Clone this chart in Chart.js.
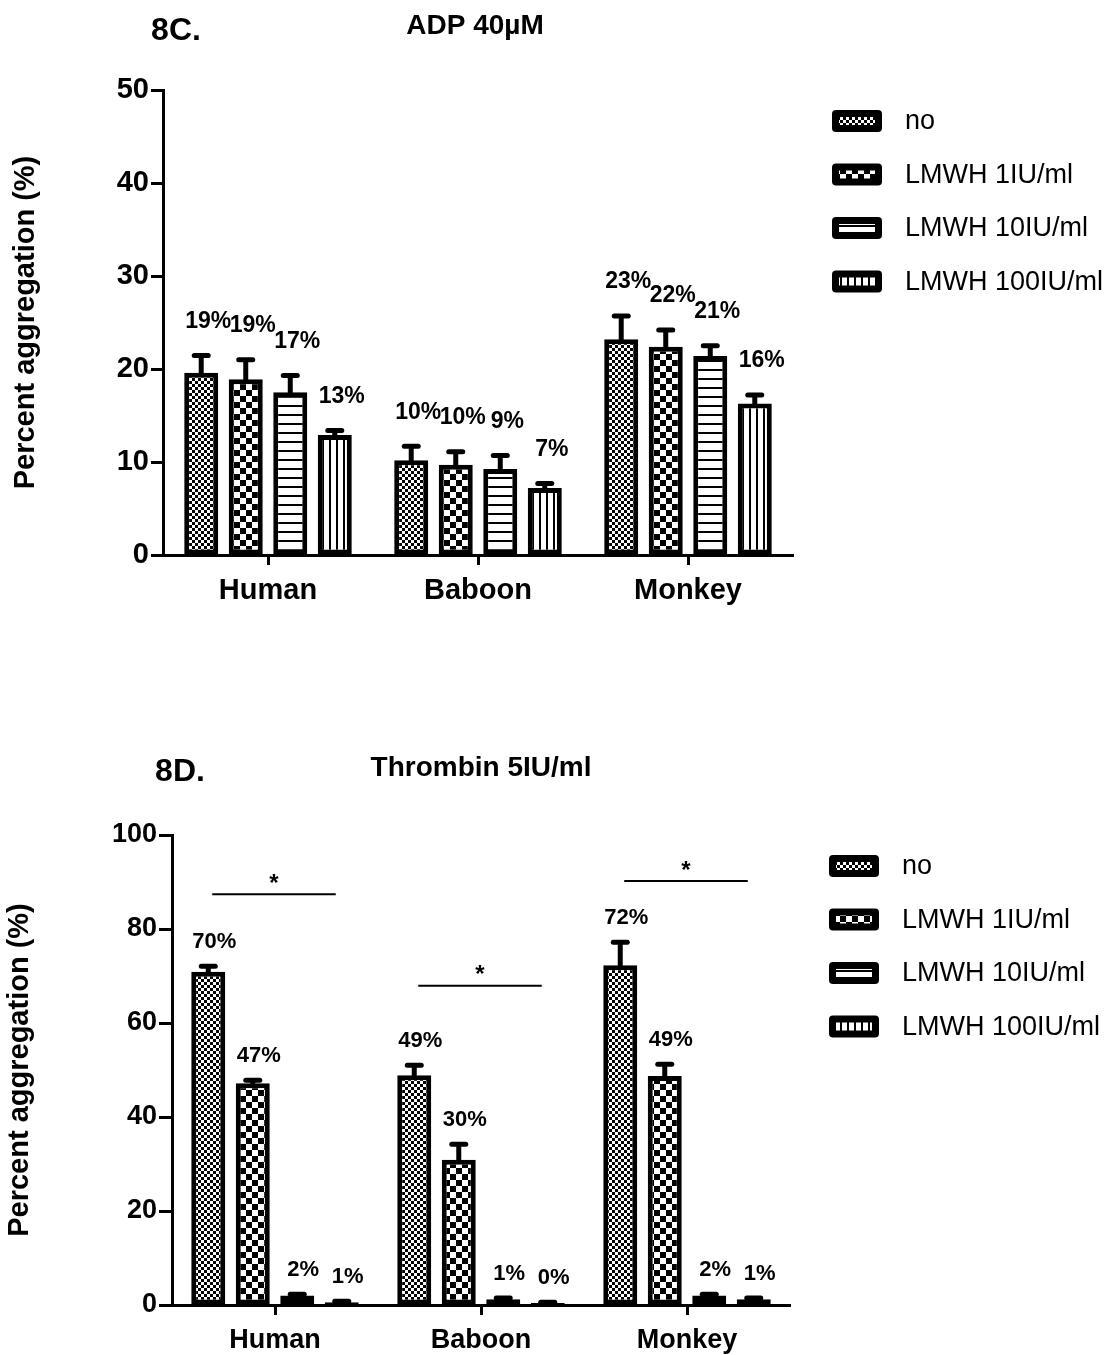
<!DOCTYPE html>
<html>
<head>
<meta charset="utf-8">
<script src="https://cdn.jsdelivr.net/npm/chart.js@4.4.1/dist/chart.umd.min.js"></script>
<style>
  body { margin: 0; background: #fff; }
  canvas { position: absolute; left: 0; }
  #adp { top: 0; }
  #thr { top: 700px; }
</style>
</head>
<body>
<canvas id="adp" width="1113" height="650"></canvas>
<canvas id="thr" width="1113" height="655"></canvas>
<script>
// categories and series
const categories = ['Human', 'Baboon', 'Monkey'];
const seriesNames = ['no', 'LMWH 1IU/ml', 'LMWH 10IU/ml', 'LMWH 100IU/ml'];

// 8C. ADP 40µM  (mean, error, printed label) per category
const adpNo       = [19.6, 10.2, 23.2];
const adpLmwh1    = [18.9, 9.7, 22.4];
const adpLmwh10   = [17.5, 9.25, 21.4];
const adpLmwh100  = [12.9, 7.2, 16.3];
const adpNoErr      = [1.85, 1.5, 2.5];
const adpLmwh1Err   = [2.1, 1.4, 1.8];
const adpLmwh10Err  = [1.8, 1.45, 1.1];
const adpLmwh100Err = [0.5, 0.5, 0.9];
const adpNoLbl      = ['19%', '10%', '23%'];
const adpLmwh1Lbl   = ['19%', '10%', '22%'];
const adpLmwh10Lbl  = ['17%', '9%', '21%'];
const adpLmwh100Lbl = ['13%', '7%', '16%'];
const adpTicks = [0, 10, 20, 30, 40, 50];

// 8D. Thrombin 5IU/ml
const thrNo       = [70.9, 48.9, 72.3];
const thrLmwh1    = [47.2, 30.9, 48.7];
const thrLmwh10   = [2.0, 1.2, 2.0];
const thrLmwh100  = [0.6, 0.4, 1.2];
const thrNoErr      = [1.2, 2.1, 4.9];
const thrLmwh1Err   = [0.6, 3.3, 2.5];
const thrLmwh10Err  = [0.3, 0.3, 0.3];
const thrLmwh100Err = [0.2, 0.2, 0.3];
const thrNoLbl      = ['70%', '49%', '72%'];
const thrLmwh1Lbl   = ['47%', '30%', '49%'];
const thrLmwh10Lbl  = ['2%', '1%', '2%'];
const thrLmwh100Lbl = ['1%', '0%', '1%'];
const thrSigY = [87.4, 67.9, 90.2];   // height of the "*" bracket per category
const thrTicks = [0, 20, 40, 60, 80, 100];

const FONT = '"Liberation Sans", Arial, sans-serif';

function makePatterns(ctx) {
  function pat(w, h, draw) {
    const c = document.createElement('canvas');
    c.width = w; c.height = h;
    const g = c.getContext('2d');
    g.fillStyle = '#fff'; g.fillRect(0, 0, w, h);
    g.fillStyle = '#000';
    draw(g);
    return ctx.createPattern(c, 'repeat');
  }
  return [
    pat(6, 6, g => { g.fillRect(0, 0, 3, 3); g.fillRect(3, 3, 3, 3); }),
    pat(12, 12, g => { g.fillRect(0, 0, 6, 6); g.fillRect(6, 6, 6, 6); }),
    pat(9, 9, g => { g.fillRect(0, 0, 9, 2); }),
    pat(7, 7, g => { g.fillRect(0, 0, 2, 7); })
  ];
}

const extras = {
  id: 'extras',
  afterDatasetsDraw(chart, args, o) {
    const ctx = chart.ctx;
    const ys = chart.scales.y;
    ctx.save();
    ctx.strokeStyle = '#000';
    ctx.fillStyle = '#000';
    chart.data.datasets.forEach((ds, i) => {
      chart.getDatasetMeta(i).data.forEach((bar, j) => {
        const top = ys.getPixelForValue(ds.data[j] + ds.errors[j]);
        ctx.lineWidth = 5;
        ctx.lineCap = 'butt';
        ctx.beginPath(); ctx.moveTo(bar.x, bar.y + 2); ctx.lineTo(bar.x, top); ctx.stroke();
        ctx.lineCap = 'round';
        ctx.beginPath(); ctx.moveTo(bar.x - 7, top); ctx.lineTo(bar.x + 7, top); ctx.stroke();
        ctx.font = 'bold ' + o.labelSize + 'px ' + FONT;
        ctx.textAlign = 'center';
        ctx.textBaseline = 'middle';
        ctx.fillText(ds.pct[j], bar.x + o.labelDx, top - o.labelGap);
      });
    });
    // significance brackets
    if (o.sig) {
      const first = chart.getDatasetMeta(0).data;
      const last = chart.getDatasetMeta(chart.data.datasets.length - 1).data;
      o.sig.forEach((v, j) => {
        const y = ys.getPixelForValue(v);
        const x1 = first[j].x + 4, x2 = last[j].x - 6;
        ctx.lineWidth = 2; ctx.lineCap = 'butt';
        ctx.beginPath(); ctx.moveTo(x1, y); ctx.lineTo(x2, y); ctx.stroke();
        ctx.font = 'bold 24px ' + FONT;
        ctx.textAlign = 'center'; ctx.textBaseline = 'middle';
        ctx.fillText('*', (x1 + x2) / 2, y - 10);
      });
    }
    ctx.restore();
  },
  afterDraw(chart, args, o) {
    const ctx = chart.ctx;
    const a = chart.chartArea;
    ctx.save();
    ctx.fillStyle = '#000';
    ctx.textBaseline = 'middle';
    ctx.textAlign = 'center';
    ctx.font = 'bold 32px ' + FONT;
    ctx.fillText(o.panel, o.panelX, o.panelY);
    ctx.font = 'bold 28px ' + FONT;
    ctx.fillText(o.title, o.titleX, o.titleY);
    // legend
    ctx.textAlign = 'left';
    ctx.font = '27px ' + FONT;
    chart.data.datasets.forEach((ds, i) => {
      const bx = a.right + 39, cy = a.top + 31 + i * 53.5;
      ctx.fillStyle = '#000';
      ctx.beginPath();
      ctx.roundRect(bx, cy - 11, 50, 22, 4);
      ctx.fill();
      ctx.fillStyle = ds.backgroundColor;
      ctx.fillRect(bx + 7, cy - 4, 36, 8);
      ctx.fillStyle = '#000';
      ctx.fillText(ds.label, bx + 73, cy + 1);
    });
    ctx.restore();
  }
};

function buildChart(id, series, errs, lbls, ticks, look) {
  const canvas = document.getElementById(id);
  const pats = makePatterns(canvas.getContext('2d'));
  const datasets = series.map((d, i) => ({
    label: seriesNames[i],
    data: d,
    errors: errs[i],
    pct: lbls[i],
    backgroundColor: pats[i],
    borderColor: '#000',
    borderWidth: 5,
    borderSkipped: false,
    categoryPercentage: look.cp,
    barPercentage: 0.764
  }));
  return new Chart(canvas, {
    type: 'bar',
    data: { labels: categories, datasets: datasets },
    plugins: [extras],
    options: {
      responsive: false,
      animation: false,
      devicePixelRatio: 1,
      layout: { padding: look.padding },
      plugins: {
        legend: { display: false },
        tooltip: { enabled: false },
        extras: look.extras
      },
      scales: {
        x: {
          grid: { drawOnChartArea: false, offset: false, tickLength: 10, tickWidth: 3, tickColor: '#000' },
          border: { color: '#000', width: 3 },
          ticks: { color: '#000', font: { family: FONT, size: look.xSize, weight: 'bold' }, padding: 9 },
          afterFit: s => { s.height = look.xHeight; }
        },
        y: {
          min: ticks[0],
          max: ticks[ticks.length - 1],
          afterBuildTicks: s => { s.ticks = ticks.map(v => ({ value: v })); },
          grid: { drawOnChartArea: false, tickLength: look.yTick, tickWidth: 3, tickColor: '#000' },
          border: { color: '#000', width: 3 },
          ticks: { color: '#000', font: { family: FONT, size: look.ySize, weight: 'bold' }, padding: 2 },
          title: {
            display: true,
            text: 'Percent aggregation (%)',
            color: '#000',
            font: { family: FONT, size: 29, weight: 'bold' },
            padding: { top: look.titlePad, bottom: 0 }
          },
          afterFit: s => { s.width = look.yWidth; }
        }
      }
    }
  });
}

buildChart('adp',
  [adpNo, adpLmwh1, adpLmwh10, adpLmwh100],
  [adpNoErr, adpLmwh1Err, adpLmwh10Err, adpLmwh100Err],
  [adpNoLbl, adpLmwh1Lbl, adpLmwh10Lbl, adpLmwh100Lbl],
  adpTicks,
  {
    cp: 0.848, padding: { top: 90, right: 320, left: 0, bottom: 0 },
    xHeight: 95, yWidth: 163, yTick: 12, xSize: 29, ySize: 29, titlePad: 9,
    extras: { labelSize: 23, labelDx: 7, labelGap: 34, panel: '8C.', panelX: 176, panelY: 31, title: 'ADP 40µM', titleX: 475, titleY: 26 }
  });

buildChart('thr',
  [thrNo, thrLmwh1, thrLmwh10, thrLmwh100],
  [thrNoErr, thrLmwh1Err, thrLmwh10Err, thrLmwh100Err],
  [thrNoLbl, thrLmwh1Lbl, thrLmwh10Lbl, thrLmwh100Lbl],
  thrTicks,
  {
    cp: 0.864, padding: { top: 135, right: 323, left: 0, bottom: 0 },
    xHeight: 50, yWidth: 172, yTick: 13, xSize: 27, ySize: 27, titlePad: 3,
    extras: { labelSize: 22, labelDx: 6, labelGap: 24, sig: thrSigY, panel: '8D.', panelX: 180, panelY: 72, title: 'Thrombin 5IU/ml', titleX: 481, titleY: 68 }
  });
</script>
</body>
</html>
